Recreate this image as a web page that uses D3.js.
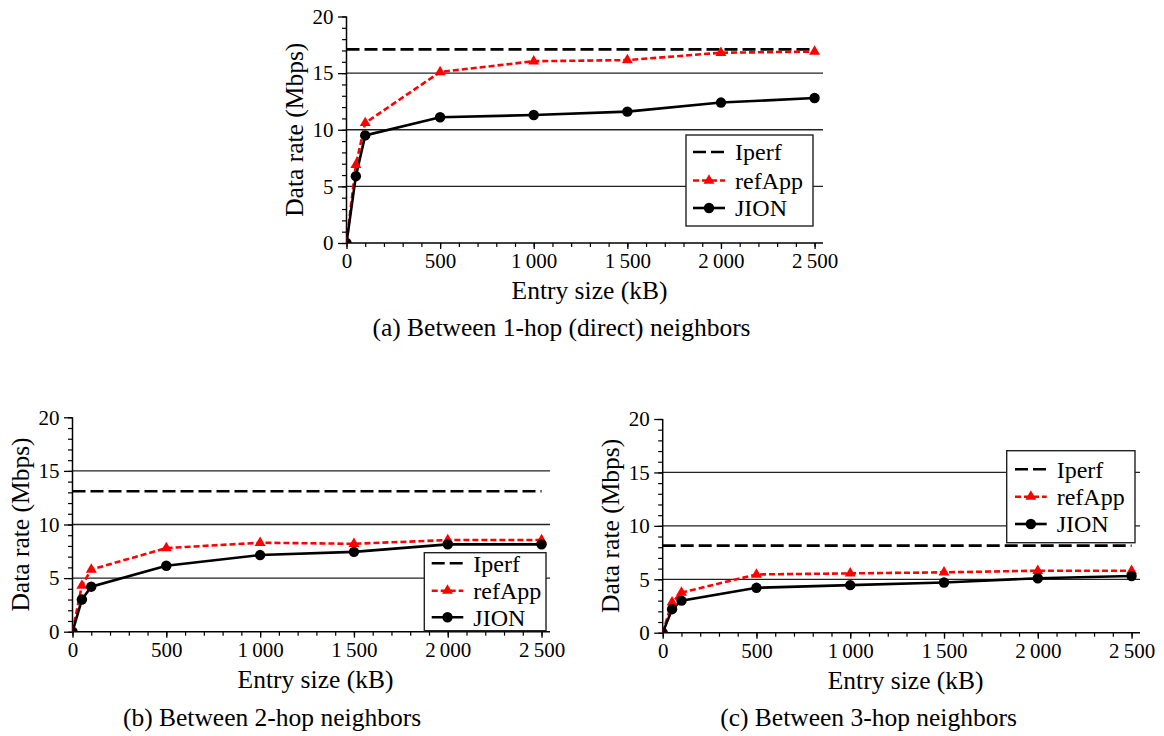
<!DOCTYPE html>
<html>
<head>
<meta charset="utf-8">
<script src="https://cdn.jsdelivr.net/npm/d3@7"></script>
<style>
  html, body { margin: 0; padding: 0; background: #fff; }
  svg { display: block; }
  svg text { font-family: "Liberation Serif", "Times New Roman", serif; }
</style>
</head>
<body>
<svg id="chart" width="1164" height="736"></svg>
<script>
// ---------------- data ----------------
const entrySizes = [0, 50, 100, 500, 1000, 1500, 2000, 2500];   // kB
const seriesNames = ["Iperf", "refApp", "JION"];

const jion1   = [0, 5.9, 9.5, 11.1, 11.3, 11.6, 12.4, 12.8];
const refApp1 = [0, 6.9, 10.6, 15.1, 16.05, 16.15, 16.8, 16.9];
const iperf1  = 17.1;

const jion2   = [0, 3.0, 4.2, 6.15, 7.15, 7.45, 8.15, 8.15];
const refApp2 = [0, 4.3, 5.8, 7.8, 8.3, 8.2, 8.55, 8.55];
const iperf2  = 13.1;

const jion3   = [0, 2.2, 3.0, 4.2, 4.45, 4.7, 5.1, 5.3];
const refApp3 = [0, 2.85, 3.75, 5.45, 5.55, 5.65, 5.8, 5.8];
const iperf3  = 8.15;

const captions = [
  "(a) Between 1-hop (direct) neighbors",
  "(b) Between 2-hop neighbors",
  "(c) Between 3-hop neighbors"
];
const xTickValues = [0, 500, 1000, 1500, 2000, 2500];
const yTickValues = [0, 5, 10, 15, 20];
const gridValues = [5, 10, 15];
const xLabel = "Entry size (kB)";
const yLabel = "Data rate (Mbps)";

// ---------------- layout ----------------
const panels = [
  { jion: jion1, refApp: refApp1, iperf: iperf1, caption: captions[0],
    x0: 346.5, x1: 823, y0: 243, y1: 16.5,
    legend: { x: 686, y: 135, w: 127, h: 91, rows: [152, 180.5, 208], sx0: 693, sx1: 725, tx: 735 },
    cap: { x: 561.5, y: 336 } },
  { jion: jion2, refApp: refApp2, iperf: iperf2, caption: captions[1],
    x0: 72.5, x1: 550, y0: 631.7, y1: 417.3,
    legend: { x: 424.3, y: 552.7, w: 121.7, h: 78, rows: [563.3, 590.7, 617.3], sx0: 431.7, sx1: 463.3, tx: 473.3 },
    cap: { x: 272, y: 726 } },
  { jion: jion3, refApp: refApp3, iperf: iperf3, caption: captions[2],
    x0: 662.7, x1: 1140, y0: 632.7, y1: 419,
    legend: { x: 1006.7, y: 450.7, w: 128.3, h: 92, rows: [469.3, 496.7, 524], sx0: 1015, sx1: 1046.7, tx: 1056.7 },
    cap: { x: 868.5, y: 726 } }
];

const RED = "#ff0000";
const FONT = '"Liberation Serif", "Times New Roman", serif';
const svg = d3.select("#chart");

const fmtX = d => d >= 1000 ? Math.floor(d / 1000) + "\u2009" + String(d % 1000).padStart(3, "0") : String(d);

panels.forEach((p, i) => {
  const g = svg.append("g");
  const x = d3.scaleLinear().domain([0, 2545]).range([p.x0, p.x1]);
  const y = d3.scaleLinear().domain([0, 20]).range([p.y0, p.y1]);

  const clipId = "clip" + i;
  svg.append("defs").append("clipPath").attr("id", clipId)
    .append("rect").attr("x", p.x0).attr("y", p.y1 - 10)
    .attr("width", p.x1 - p.x0 + 10).attr("height", p.y0 - p.y1 + 10);

  // grid lines
  g.append("g").selectAll("line").data(gridValues).join("line")
    .attr("x1", p.x0).attr("x2", p.x1)
    .attr("y1", d => y(d)).attr("y2", d => y(d))
    .attr("stroke", "#222").attr("stroke-width", 1.3);

  // x axis: minor ticks
  const xAxisMinor = d3.axisBottom(x).tickValues(d3.range(0, 2501, 100)).tickSize(4).tickFormat("");
  const xa = g.append("g").attr("transform", `translate(0,${p.y0})`).call(xAxisMinor);
  xa.select(".domain").remove();
  xa.selectAll("line").attr("stroke", "#000").attr("stroke-width", 1.2);
  const xAxisMajor = d3.axisBottom(x).tickValues(xTickValues).tickSize(6).tickPadding(4).tickFormat(fmtX);
  const xb = g.append("g").attr("transform", `translate(0,${p.y0})`).call(xAxisMajor)
    .attr("font-family", null).attr("font-size", null);
  xb.select(".domain").remove();
  xb.selectAll("line").attr("stroke", "#000").attr("stroke-width", 1.3);
  xb.selectAll("text").style("font-size", "21px").style("font-family", FONT).attr("fill", "#000");

  // y axis
  const yAxisMinor = d3.axisLeft(y).tickValues(d3.range(0, 21, 1)).tickSize(4.5).tickFormat("");
  const ya = g.append("g").attr("transform", `translate(${p.x0},0)`).call(yAxisMinor);
  ya.select(".domain").remove();
  ya.selectAll("line").attr("stroke", "#000").attr("stroke-width", 1.2);
  const yAxisMajor = d3.axisLeft(y).tickValues(yTickValues).tickSize(8.5).tickPadding(4.5);
  const yb = g.append("g").attr("transform", `translate(${p.x0},0)`).call(yAxisMajor)
    .attr("font-family", null).attr("font-size", null);
  yb.select(".domain").remove();
  yb.selectAll("line").attr("stroke", "#000").attr("stroke-width", 1.3);
  yb.selectAll("text").style("font-size", "21px").style("font-family", FONT).attr("fill", "#000");

  // axis lines
  g.append("line").attr("x1", p.x0).attr("x2", p.x1).attr("y1", p.y0).attr("y2", p.y0)
    .attr("stroke", "#000").attr("stroke-width", 1.5);
  g.append("line").attr("x1", p.x0).attr("x2", p.x0).attr("y1", p.y0).attr("y2", p.y1)
    .attr("stroke", "#000").attr("stroke-width", 1.5);

  // axis titles
  g.append("text").attr("x", p.x0 + 243).attr("y", p.y0 + 56)
    .attr("text-anchor", "middle").style("font-size", "25.5px").text(xLabel);
  g.append("text")
    .attr("transform", `translate(${p.x0 - 44},${(p.y0 + p.y1) / 2}) rotate(-90)`)
    .attr("text-anchor", "middle").style("font-size", "25.5px").text(yLabel);

  // data
  const plot = g.append("g").attr("clip-path", `url(#${clipId})`);
  const line = d3.line().x((d, j) => x(entrySizes[j])).y(d => y(d));

  plot.append("line")
    .attr("x1", x(entrySizes[0])).attr("x2", x(entrySizes[entrySizes.length - 1]))
    .attr("y1", y(p.iperf)).attr("y2", y(p.iperf))
    .attr("stroke", "#000").attr("stroke-width", 2.6).attr("stroke-dasharray", "13,5");

  plot.append("path").datum(p.refApp).attr("d", line)
    .attr("fill", "none").attr("stroke", RED).attr("stroke-width", 2.6)
    .attr("stroke-dasharray", "6,3");
  plot.append("path").datum(p.jion).attr("d", line)
    .attr("fill", "none").attr("stroke", "#000").attr("stroke-width", 2.6);

  const tri = d3.symbol().type(d3.symbolTriangle).size(52);
  plot.selectAll(".tri").data(p.refApp).join("path").attr("class", "tri")
    .attr("transform", (d, j) => `translate(${x(entrySizes[j])},${y(d)})`)
    .attr("d", tri).attr("fill", RED);
  plot.selectAll(".dot").data(p.jion).join("circle").attr("class", "dot")
    .attr("cx", (d, j) => x(entrySizes[j])).attr("cy", d => y(d)).attr("r", 5.2)
    .attr("fill", "#000");

  // legend
  const L = p.legend;
  const lg = g.append("g");
  lg.append("rect").attr("x", L.x).attr("y", L.y).attr("width", L.w).attr("height", L.h)
    .attr("fill", "#fff").attr("stroke", "#222").attr("stroke-width", 1.4);
  seriesNames.forEach((name, k) => {
    const ry = L.rows[k];
    const ln = lg.append("line").attr("x1", L.sx0).attr("x2", L.sx1).attr("y1", ry).attr("y2", ry)
      .attr("stroke-width", 2.6);
    if (k === 0) ln.attr("stroke", "#000").attr("stroke-dasharray", "13,5");
    if (k === 1) {
      ln.attr("stroke", RED).attr("stroke-dasharray", "6,3");
      lg.append("path").attr("transform", `translate(${(L.sx0 + L.sx1) / 2},${ry})`)
        .attr("d", d3.symbol().type(d3.symbolTriangle).size(52)()).attr("fill", RED);
    }
    if (k === 2) {
      ln.attr("stroke", "#000");
      lg.append("circle").attr("cx", (L.sx0 + L.sx1) / 2).attr("cy", ry).attr("r", 5.2).attr("fill", "#000");
    }
    lg.append("text").attr("x", L.tx).attr("y", ry).attr("dy", "0.35em")
      .style("font-size", "24px").text(name);
  });

  // caption
  g.append("text").attr("x", p.cap.x).attr("y", p.cap.y).attr("text-anchor", "middle")
    .style("font-size", "25.5px").text(p.caption);
});
</script>
</body>
</html>
